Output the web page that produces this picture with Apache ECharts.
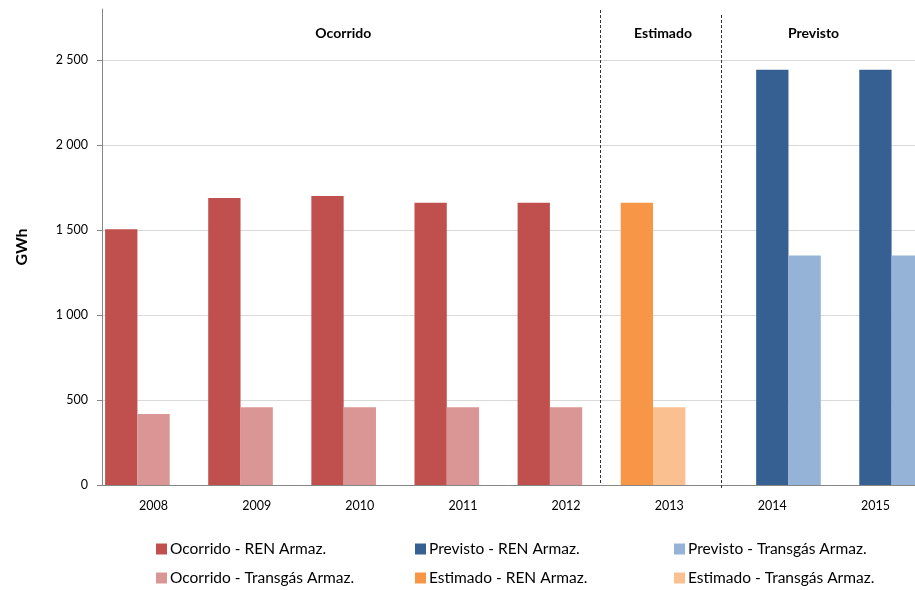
<!DOCTYPE html>
<html>
<head>
<meta charset="utf-8">
<script src="https://cdn.jsdelivr.net/npm/echarts@6/dist/echarts.min.js"></script>
<style>
  html, body { margin: 0; padding: 0; background: #fff; }
  #chart { width: 915px; height: 590px; }
</style>
</head>
<body>
<div id="chart"></div>
<script>
// Storage capacity by year (GWh)
const categories = ['2008', '2009', '2010', '2011', '2012', '2013', '2014', '2015'];
const ocorridoREN      = [1505, 1688, 1700, 1660, 1660, null, null, null];
const ocorridoTransgas = [418, 457, 457, 457, 457, null, null, null];
const estimadoREN      = [null, null, null, null, null, 1660, null, null];
const estimadoTransgas = [null, null, null, null, null, 457, null, null];
const previstoREN      = [null, null, null, null, null, null, 2443, 2443];
const previstoTransgas = [null, null, null, null, null, null, 1350, 1350];

// Period headers and separators, in category units along the axis
const periodNames = ['Ocorrido', 'Estimado', 'Previsto'];
const periodCenters = [2.34, 5.44, 6.9];
const separatorsAt = [4.83, 6];

const FONT = 'Lato, "Open Sans", sans-serif';
const fmtThousands = v => String(v).replace(/\B(?=(\d{3})+(?!\d))/g, ' ');

const chart = echarts.init(document.getElementById('chart'), null, { renderer: 'canvas' });

function barSeries(name, data, stack, color) {
  return {
    name, type: 'bar', data, stack,
    barGap: '0%', barCategoryGap: '6%',
    itemStyle: { color },
    emphasis: { disabled: true },
    animation: false
  };
}

function legendColumn(left, names) {
  return {
    orient: 'vertical', left, top: 540, padding: 0,
    itemWidth: 11, itemHeight: 11, itemGap: 11,
    icon: 'rect', selectedMode: false,
    data: names,
    textStyle: { fontFamily: FONT, fontSize: 15.5, color: '#000', lineHeight: 18, padding: [0, 0, 0, -2] }
  };
}

const option = {
  animation: false,
  // the plot runs past the right edge of the canvas; the last category is clipped
  grid: { left: 102, width: 825, top: 9, bottom: 105, containLabel: false, outerBoundsMode: 'none' },
  xAxis: [{
    type: 'category', data: categories,
    axisLine: { lineStyle: { color: '#868686', width: 1 } },
    axisTick: { show: false },
    axisLabel: { fontFamily: FONT, fontSize: 12.5, color: '#000', margin: 14 }
  }, {
    type: 'value', min: 0, max: 8, show: false
  }],
  yAxis: {
    type: 'value', min: 0, max: 2800, interval: 500,
    name: 'GWh', nameLocation: 'middle', nameGap: 72,
    nameTextStyle: { fontFamily: FONT, fontSize: 16, fontWeight: 'bold', color: '#000' },
    axisLine: { show: true, lineStyle: { color: '#868686', width: 1 } },
    axisTick: { show: true, length: 5, lineStyle: { color: '#868686' } },
    axisLabel: { fontFamily: FONT, fontSize: 12.5, color: '#000', margin: 14,
      showMaxLabel: false, formatter: fmtThousands },
    splitLine: { show: true, showMaxLine: false, lineStyle: { color: '#D9D9D9', width: 1 } }
  },
  legend: [
    legendColumn(156, ['Ocorrido - REN Armaz.', 'Ocorrido - Transgás Armaz.']),
    legendColumn(415, ['Previsto - REN Armaz.', 'Estimado - REN Armaz.']),
    legendColumn(674, ['Previsto - Transgás Armaz.', 'Estimado - Transgás Armaz.'])
  ],
  series: [
    barSeries('Ocorrido - REN Armaz.', ocorridoREN, 'a', '#C0504D'),
    barSeries('Ocorrido - Transgás Armaz.', ocorridoTransgas, 'b', '#D99694'),
    barSeries('Previsto - REN Armaz.', previstoREN, 'b', '#376092'),
    barSeries('Previsto - Transgás Armaz.', previstoTransgas, 'c', '#95B3D7'),
    barSeries('Estimado - REN Armaz.', estimadoREN, 'a', '#F79646'),
    barSeries('Estimado - Transgás Armaz.', estimadoTransgas, 'b', '#FAC090')
  ]
};

chart.setOption(option);

// Period separators and headers placed through the hidden value axis
const topY = chart.convertToPixel({ yAxisIndex: 0 }, 2800);
const baseY = chart.convertToPixel({ yAxisIndex: 0 }, 0);
const graphics = [];
separatorsAt.forEach((pos, i) => {
  const x = Math.round(chart.convertToPixel({ xAxisIndex: 1 }, pos)) + 0.5;
  graphics.push({
    type: 'line', silent: true, z: 10,
    shape: { x1: x, y1: topY + 1 + i * 5, x2: x, y2: baseY - 2 + i * 5 },
    style: { stroke: '#333', lineWidth: 1, lineDash: [3, 2] }
  });
});
periodNames.forEach((name, i) => {
  const x = chart.convertToPixel({ xAxisIndex: 1 }, periodCenters[i]);
  graphics.push({
    type: 'text', silent: true, z: 10,
    x, y: 33,
    style: { text: name, fontFamily: FONT, fontSize: 14, fontWeight: 'bold', fill: '#000',
      textAlign: 'center', textVerticalAlign: 'middle' }
  });
});
chart.setOption({ graphic: graphics });
</script>
</body>
</html>
